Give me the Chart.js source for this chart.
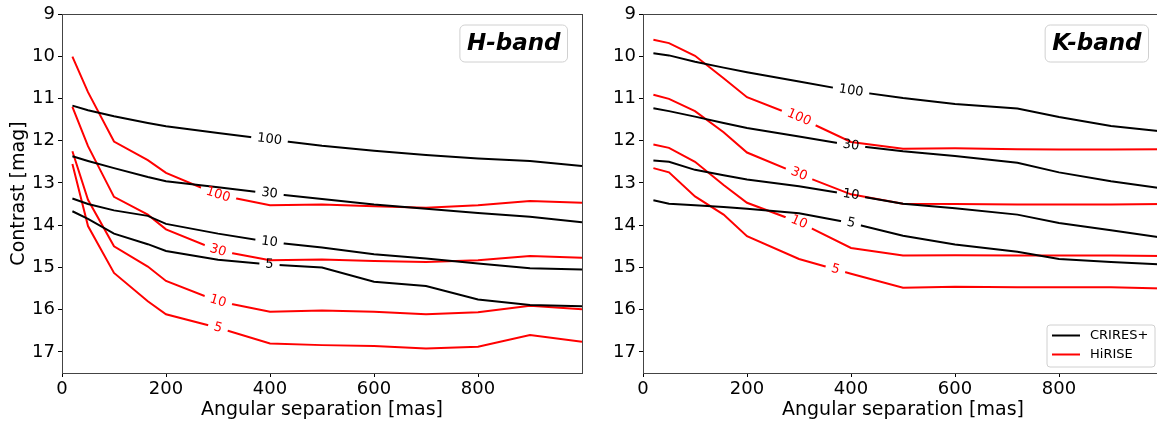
<!DOCTYPE html>
<html>
<head>
<meta charset="utf-8">
<script src="https://cdn.jsdelivr.net/npm/chart.js@4.4.1/dist/chart.umd.min.js"></script>
<style>
    html, body { margin: 0; padding: 0; background: #fff; overflow: hidden; }
    body { width: 1157px; height: 426px; position: relative; }
    .panel { position: absolute; top: 0; width: 600px; height: 426px; }
    #wrapH { left: 0; }
    #wrapK { left: 581px; }
</style>
</head>
<body>
<div class="panel" id="wrapH"><canvas id="chartH" width="600" height="426"></canvas></div>
<div class="panel" id="wrapK"><canvas id="chartK" width="600" height="426"></canvas></div>
<script>
// tick labels
const xTicks = [0, 200, 400, 600, 800];
const yTicks = [9, 10, 11, 12, 13, 14, 15, 16, 17];
const levels = [100, 30, 10, 5];

// H-band: angular separation grid [mas] and contrast [mag] per S/N level
const sepH = [20, 50, 100, 165, 200, 300, 400, 500, 600, 700, 800, 900, 1000];
const criresH100 = [11.17, 11.28, 11.42, 11.58, 11.66, 11.82, 11.97, 12.12, 12.24, 12.34, 12.42, 12.48, 12.6];
const criresH30  = [12.37, 12.48, 12.65, 12.86, 12.96, 13.1, 13.25, 13.38, 13.51, 13.61, 13.71, 13.8, 13.93];
const criresH10  = [13.37, 13.5, 13.65, 13.78, 13.97, 14.2, 14.4, 14.53, 14.69, 14.79, 14.91, 15.02, 15.05];
const criresH5   = [13.67, 13.85, 14.2, 14.45, 14.61, 14.82, 14.93, 15.0, 15.34, 15.44, 15.76, 15.89, 15.92];
const hiriseH100 = [10.01, 10.85, 12.02, 12.46, 12.76, 13.28, 13.53, 13.51, 13.55, 13.59, 13.53, 13.43, 13.47];
const hiriseH30  = [11.2, 12.13, 13.33, 13.75, 14.1, 14.6, 14.83, 14.81, 14.85, 14.87, 14.83, 14.73, 14.77];
const hiriseH10  = [12.25, 13.4, 14.5, 14.98, 15.32, 15.8, 16.05, 16.02, 16.05, 16.11, 16.06, 15.91, 15.99];
const hiriseH5   = [12.55, 14.02, 15.13, 15.8, 16.11, 16.43, 16.8, 16.84, 16.86, 16.92, 16.88, 16.6, 16.76];

// K-band
const sepK = [20, 50, 100, 155, 200, 300, 400, 500, 600, 720, 800, 900, 1000];
const criresK100 = [9.93, 9.98, 10.13, 10.27, 10.38, 10.6, 10.82, 10.99, 11.13, 11.24, 11.44, 11.65, 11.78];
const criresK30  = [11.23, 11.3, 11.43, 11.58, 11.7, 11.9, 12.11, 12.25, 12.36, 12.52, 12.75, 12.96, 13.13];
const criresK10  = [12.47, 12.5, 12.69, 12.82, 12.92, 13.08, 13.28, 13.49, 13.6, 13.75, 13.95, 14.12, 14.3];
const criresK5   = [13.41, 13.49, 13.53, 13.57, 13.61, 13.72, 13.95, 14.25, 14.46, 14.63, 14.8, 14.87, 14.93];
const hiriseK100 = [9.61, 9.69, 9.99, 10.52, 10.97, 11.45, 12.03, 12.19, 12.18, 12.2, 12.21, 12.21, 12.2];
const hiriseK30  = [10.91, 11.01, 11.3, 11.8, 12.28, 12.79, 13.27, 13.49, 13.5, 13.51, 13.51, 13.51, 13.5];
const hiriseK10  = [12.09, 12.17, 12.5, 13.05, 13.47, 13.93, 14.54, 14.72, 14.71, 14.72, 14.72, 14.72, 14.73];
const hiriseK5   = [12.65, 12.75, 13.32, 13.75, 14.26, 14.8, 15.15, 15.48, 15.46, 15.47, 15.47, 15.47, 15.5];

// where the inline contour labels sit (mas)
const labelXH = { crires: [399, 399, 399, 399], hirise: [300, 300, 300, 300] };
const labelXK = { crires: [400, 400, 400, 400], hirise: [300, 300, 300, 370] };

const FONT = "DejaVu Sans";
Chart.defaults.font.family = FONT;
Chart.defaults.color = "#000";

function makeSeries(sep, values, color, level, labelX) {
    return {
        data: sep.map((x, i) => ({ x: x, y: values[i] })),
        borderColor: color,
        borderWidth: 2,
        pointRadius: 0,
        fill: false,
        tension: 0,
        level: level,
        labelX: labelX
    };
}

function lineY(pts, px) {
    for (let i = 0; i < pts.length - 1; i++) {
        const a = pts[i], b = pts[i + 1];
        if (px >= a.x && px <= b.x) return a.y + (px - a.x) / (b.x - a.x) * (b.y - a.y);
    }
    return pts[pts.length - 1].y;
}

function labelSpot(chart, index) {
    const ds = chart.data.datasets[index];
    const pts = chart.getDatasetMeta(index).data.map(p => ({ x: p.x, y: p.y }));
    const px = chart.scales.x.getPixelForValue(ds.labelX);
    const y0 = lineY(pts, px - 12), y1 = lineY(pts, px + 12);
    const ctx = chart.ctx;
    ctx.save();
    ctx.font = "13px '" + FONT + "'";
    const w = ctx.measureText(String(ds.level)).width;
    ctx.restore();
    return { x: px, y: lineY(pts, px), angle: Math.atan2(y1 - y0, 24), w: w };
}

// cuts a gap in each contour line and writes its level into it
const contourLabels = {
    id: "contourLabels",
    beforeDatasetDraw(chart, args) {
        const s = labelSpot(chart, args.index);
        const ctx = chart.ctx;
        const hw = s.w / 2 + 6, hh = 8;
        const c = Math.cos(s.angle), sn = Math.sin(s.angle);
        ctx.save();
        ctx.beginPath();
        ctx.rect(0, 0, chart.width, chart.height);
        [[-hw, -hh], [hw, -hh], [hw, hh], [-hw, hh]].forEach(([u, v], i) => {
            const X = s.x + u * c - v * sn, Y = s.y + u * sn + v * c;
            if (i === 0) ctx.moveTo(X, Y); else ctx.lineTo(X, Y);
        });
        ctx.closePath();
        ctx.clip("evenodd");
    },
    afterDatasetDraw(chart) {
        chart.ctx.restore();
    },
    afterDatasetsDraw(chart) {
        const ctx = chart.ctx;
        chart.data.datasets.forEach((ds, i) => {
            const s = labelSpot(chart, i);
            ctx.save();
            ctx.translate(s.x, s.y);
            ctx.rotate(s.angle);
            ctx.fillStyle = ds.borderColor;
            ctx.font = "13px '" + FONT + "'";
            ctx.textAlign = "center";
            ctx.textBaseline = "middle";
            ctx.fillText(String(ds.level), 0, 0);
            ctx.restore();
        });
    }
};

function roundRect(ctx, x, y, w, h, r) {
    ctx.beginPath();
    ctx.moveTo(x + r, y);
    ctx.arcTo(x + w, y, x + w, y + h, r);
    ctx.arcTo(x + w, y + h, x, y + h, r);
    ctx.arcTo(x, y + h, x, y, r);
    ctx.arcTo(x, y, x + w, y, r);
    ctx.closePath();
}

const decorations = {
    id: "decorations",
    afterDraw(chart, args, opts) {
        const ctx = chart.ctx;
        const a = chart.chartArea;
        // full frame
        ctx.save();
        ctx.strokeStyle = "#444";
        ctx.lineWidth = 1;
        ctx.strokeRect(Math.round(a.left) + 0.5, Math.round(a.top) + 0.5,
            Math.round(a.right - a.left), Math.round(a.bottom - a.top));

        // band box
        ctx.font = "bold italic 23px '" + FONT + "'";
        const tw = ctx.measureText(opts.band).width;
        const bw = tw + 14, bh = 37;
        const bx = a.right - 14.5 - bw, by = a.top + 11;
        roundRect(ctx, bx, by, bw, bh, 5);
        ctx.fillStyle = "rgba(255,255,255,0.8)";
        ctx.fill();
        ctx.strokeStyle = "#d0d0d0";
        ctx.stroke();
        ctx.fillStyle = "#000";
        ctx.textAlign = "center";
        ctx.textBaseline = "middle";
        ctx.fillText(opts.band, bx + bw / 2, by + bh / 2 + 1);

        // legend
        if (opts.legend) {
            const lw = 108, lh = 42;
            const lx = a.right - 8 - lw, ly = a.bottom - 6 - lh;
            roundRect(ctx, lx, ly, lw, lh, 3);
            ctx.fillStyle = "rgba(255,255,255,0.8)";
            ctx.fill();
            ctx.strokeStyle = "#d0d0d0";
            ctx.stroke();
            ctx.font = "13px '" + FONT + "'";
            ctx.textAlign = "left";
            opts.legend.forEach((item, i) => {
                const yy = ly + 10.5 + i * 19;
                ctx.strokeStyle = item.color;
                ctx.lineWidth = 2;
                ctx.beginPath();
                ctx.moveTo(lx + 5, yy);
                ctx.lineTo(lx + 33, yy);
                ctx.stroke();
                ctx.fillStyle = "#000";
                ctx.fillText(item.label, lx + 43, yy);
            });
        }
        ctx.restore();
    }
};

function makeChart(id, sep, crires, hirise, labelX, band, showYTitle, legend) {
    const datasets = [];
    crires.forEach((v, i) => datasets.push(makeSeries(sep, v, "#000000", levels[i], labelX.crires[i])));
    hirise.forEach((v, i) => datasets.push(makeSeries(sep, v, "#ff0000", levels[i], labelX.hirise[i])));

    return new Chart(document.getElementById(id).getContext("2d"), {
        type: "line",
        data: { datasets: datasets },
        plugins: [contourLabels, decorations],
        options: {
            responsive: false,
            animation: false,
            layout: { padding: { top: 14, right: 18, left: 0, bottom: 0 } },
            plugins: {
                legend: { display: false },
                tooltip: { enabled: false },
                decorations: { band: band, legend: legend }
            },
            scales: {
                x: {
                    type: "linear",
                    min: 0,
                    max: 1000,
                    afterBuildTicks: s => { s.ticks = xTicks.map(v => ({ value: v })); },
                    afterFit: s => { s.height = 53; },
                    ticks: { font: { size: 18 }, color: "#000", padding: 2, maxRotation: 0 },
                    grid: { drawOnChartArea: false, drawTicks: true, tickLength: 4, color: "#000" },
                    border: { color: "#444", width: 1 },
                    title: {
                        display: true,
                        text: "Angular separation [mas]",
                        font: { size: 19 },
                        color: "#000",
                        padding: { top: 0, bottom: 5 }
                    }
                },
                y: {
                    type: "linear",
                    reverse: true,
                    min: 9,
                    max: 17.5,
                    afterBuildTicks: s => { s.ticks = yTicks.map(v => ({ value: v })); },
                    afterFit: s => { s.width = 62; },
                    ticks: { font: { size: 18 }, color: "#000", padding: 3 },
                    grid: { drawOnChartArea: false, drawTicks: true, tickLength: 4, color: "#000" },
                    border: { color: "#444", width: 1 },
                    title: {
                        display: showYTitle,
                        text: "Contrast [mag]",
                        font: { size: 19 },
                        color: "#000",
                        padding: { top: 8, bottom: 0 }
                    }
                }
            }
        }
    });
}

makeChart("chartH", sepH,
    [criresH100, criresH30, criresH10, criresH5],
    [hiriseH100, hiriseH30, hiriseH10, hiriseH5],
    labelXH, "H-band", true, null);

makeChart("chartK", sepK,
    [criresK100, criresK30, criresK10, criresK5],
    [hiriseK100, hiriseK30, hiriseK10, hiriseK5],
    labelXK, "K-band", false,
    [{ label: "CRIRES+", color: "#000000" }, { label: "HiRISE", color: "#ff0000" }]);
</script>
</body>
</html>
